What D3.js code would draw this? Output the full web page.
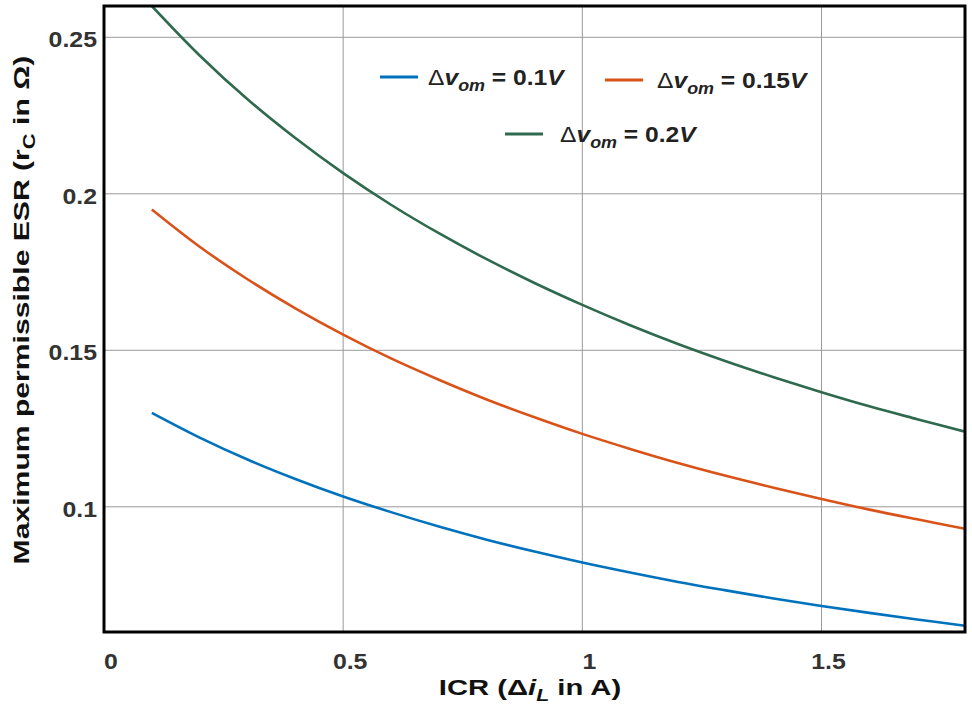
<!DOCTYPE html>
<html>
<head>
<meta charset="utf-8">
<script src="https://cdn.jsdelivr.net/npm/d3@7"></script>
<style>
  body { margin: 0; background: #fff; }
  text { font-family: "Liberation Sans", Arial, sans-serif; }
</style>
</head>
<body>
<svg id="chart" width="972" height="713"></svg>
<script>
// values
let icr = [0.1, 0.2, 0.3, 0.4, 0.5, 0.6, 0.7, 0.8, 0.9, 1.0, 1.1, 1.2, 1.3, 1.4, 1.5, 1.6, 1.7, 1.8];
let esr01 = [0.130, 0.1221, 0.1151, 0.1089, 0.1033, 0.0983, 0.0937, 0.0895, 0.0857, 0.0822, 0.079, 0.076, 0.0733, 0.0707, 0.0683, 0.0661, 0.064, 0.062];
let esr015 = [0.195, 0.1831, 0.1727, 0.1634, 0.155, 0.1474, 0.1406, 0.1343, 0.1286, 0.1233, 0.1185, 0.114, 0.1099, 0.1061, 0.1025, 0.0991, 0.096, 0.093];
let esr02 = [0.260, 0.2442, 0.2302, 0.2178, 0.2066, 0.1965, 0.1874, 0.1791, 0.1715, 0.1645, 0.158, 0.152, 0.1465, 0.1414, 0.1366, 0.1321, 0.128, 0.124];
let seriesNames = ["0.1", "0.15", "0.2"];
let seriesColors = ["#0072bd", "#d95319", "#2f6a4e"];
let xTicks = [0, 0.5, 1, 1.5];
let yTicks = [0.1, 0.15, 0.2, 0.25];

let svg = d3.select("#chart");
let plotLeft = 104, plotRight = 965, plotTop = 6, plotBottom = 632;

let x = d3.scaleLinear().domain([0, 1.8]).range([plotLeft, plotRight]);
let y = d3.scaleLinear().domain([0.06, 0.26]).range([plotBottom, plotTop]);

// grid
svg.append("g")
  .selectAll("line")
  .data(xTicks.slice(1))
  .enter().append("line")
  .attr("x1", d => x(d)).attr("x2", d => x(d))
  .attr("y1", plotTop).attr("y2", plotBottom)
  .style("stroke", "#9a9a9a")
  .style("stroke-width", 1);
svg.append("g")
  .selectAll("line")
  .data(yTicks)
  .enter().append("line")
  .attr("x1", plotLeft).attr("x2", plotRight)
  .attr("y1", d => y(d)).attr("y2", d => y(d))
  .style("stroke", "#9a9a9a")
  .style("stroke-width", 1);

// tick labels (the source font is a bit wider than Arial, so stretch)
svg.append("g")
  .selectAll("text")
  .data(xTicks)
  .enter().append("text")
  .attr("transform", d => "translate(" + (x(d) + 7) + ",669) scale(1.13,1)")
  .text(d => d)
  .style("font-size", 22)
  .style("font-weight", "bold")
  .style("fill", "#333")
  .style("text-anchor", "middle");
svg.append("g")
  .selectAll("text")
  .data(yTicks)
  .enter().append("text")
  .attr("transform", d => "translate(97," + (y(d) + 10) + ") scale(1.13,1)")
  .text(d => d)
  .style("font-size", 22)
  .style("font-weight", "bold")
  .style("fill", "#333")
  .style("text-anchor", "end");

// curves
let line = d3.line()
  .x((d, i) => x(icr[i]))
  .y(d => y(d))
  .curve(d3.curveCatmullRom);

let allSeries = [esr01, esr015, esr02];
svg.append("defs").append("clipPath").attr("id", "clip")
  .append("rect")
  .attr("x", plotLeft).attr("y", plotTop)
  .attr("width", plotRight - plotLeft).attr("height", plotBottom - plotTop);
allSeries.forEach((s, i) => {
  svg.append("path")
    .attr("d", line(s))
    .attr("clip-path", "url(#clip)")
    .style("fill", "none")
    .style("stroke", seriesColors[i])
    .style("stroke-width", 2.6);
});

// frame
svg.append("rect")
  .attr("x", plotLeft).attr("y", plotTop)
  .attr("width", plotRight - plotLeft).attr("height", plotBottom - plotTop)
  .style("fill", "none")
  .style("stroke", "#000")
  .style("stroke-width", 3);

// legend
let legendPos = [[380, 77, 428], [605, 80, 657], [505, 134, 560]];
seriesNames.forEach((name, i) => {
  let lx = legendPos[i][0], ly = legendPos[i][1], tx = legendPos[i][2];
  svg.append("line")
    .attr("x1", lx).attr("x2", lx + 38)
    .attr("y1", ly).attr("y2", ly)
    .style("stroke", seriesColors[i])
    .style("stroke-width", 3);
  let t = svg.append("text")
    .attr("transform", "translate(" + tx + "," + (ly + 8) + ") scale(1.12,1)")
    .style("font-size", 22)
    .style("fill", "#222");
  t.append("tspan").text("Δ");
  t.append("tspan").text("v").style("font-weight", "bold").style("font-style", "italic");
  t.append("tspan").text("om").attr("dy", 6).style("font-size", 16).style("font-weight", "bold").style("font-style", "italic");
  t.append("tspan").text(" = " + name).attr("dy", -6).style("font-weight", "bold");
  t.append("tspan").text("V").style("font-weight", "bold").style("font-style", "italic");
});

// axis titles
let xt = svg.append("text")
  .attr("transform", "translate(530,695) scale(1.33,1)")
  .style("font-size", 22)
  .style("font-weight", "bold")
  .style("fill", "#111")
  .style("text-anchor", "middle");
xt.append("tspan").text("ICR (Δ");
xt.append("tspan").text("i").style("font-style", "italic");
xt.append("tspan").text("L").attr("dy", 6).style("font-size", 16).style("font-style", "italic");
xt.append("tspan").text("  in A)").attr("dy", -6);

let yt = svg.append("text")
  .attr("transform", "translate(29,310) rotate(-90) scale(1.37,1)")
  .style("font-size", 22)
  .style("font-weight", "bold")
  .style("fill", "#111")
  .style("text-anchor", "middle");
yt.append("tspan").text("Maximum permissible ESR (r");
yt.append("tspan").text("C").attr("dy", 6).style("font-size", 16);
yt.append("tspan").text(" in Ω)").attr("dy", -6);
</script>
</body>
</html>
